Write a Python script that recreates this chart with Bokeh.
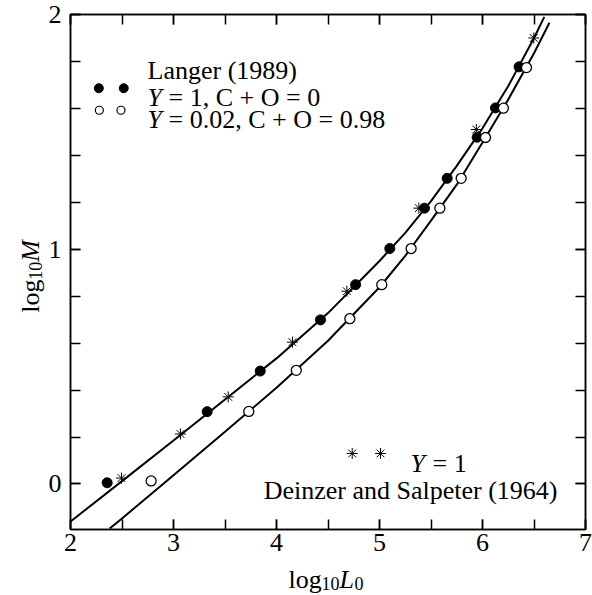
from bokeh.plotting import figure
from bokeh.models import Range1d, SingleIntervalTicker, LinearAxis, Label, CustomJSTickFormatter
from bokeh.embed import file_html
from bokeh.resources import INLINE
import math

# ---- data ----
# Langer (1989), Y = 1, C + O = 0  (filled circles)
filled_logL = [2.356, 3.327, 3.842, 4.427, 4.768, 5.100, 5.437, 5.657, 5.948, 6.126, 6.355]
filled_logM = [0.005, 0.308, 0.481, 0.699, 0.849, 1.003, 1.175, 1.302, 1.477, 1.602, 1.777]
# Langer (1989), Y = 0.02, C + O = 0.98 (open circles)
open_logL = [2.783, 3.731, 4.192, 4.712, 5.022, 5.307, 5.586, 5.793, 6.029, 6.203, 6.427]
open_logM = [0.013, 0.309, 0.484, 0.704, 0.849, 1.003, 1.175, 1.302, 1.476, 1.601, 1.774]
# Deinzer and Salpeter (1964), Y = 1 (asterisks)
ds_logL = [2.495, 3.068, 3.531, 4.155, 4.683, 5.382, 5.940, 6.498]
ds_logM = [0.025, 0.213, 0.371, 0.604, 0.821, 1.175, 1.510, 1.900]
# fitted curves
upper_logL = [2.0, 2.5, 3.0, 3.5, 4.0, 4.5, 5.0, 5.25, 5.5, 5.75, 6.0, 6.25, 6.5, 6.6]
upper_logM = [-0.16, 0.012, 0.185, 0.36, 0.535, 0.728, 0.95, 1.07, 1.205, 1.355, 1.515, 1.695, 1.90, 1.99]
lower_logL = [2.38, 2.5, 3.0, 3.5, 4.0, 4.5, 5.0, 5.25, 5.5, 5.75, 6.0, 6.25, 6.5, 6.65]
lower_logM = [-0.19, -0.147, 0.037, 0.222, 0.41, 0.61, 0.838, 0.972, 1.122, 1.275, 1.455, 1.638, 1.835, 1.965]

x_ticks_major = 1
y_ticks_major = 1

SERIF = "Liberation Serif"
FS = "26px"
FS_SUB = "18px"

p = figure(frame_width=515, frame_height=515,
           x_range=Range1d(2, 7), y_range=Range1d(-0.194, 2.0),
           output_backend="svg", toolbar_location=None,
           min_border_left=70, min_border_right=5, min_border_top=14, min_border_bottom=66,
           background_fill_color="white", border_fill_color="white")
p.xgrid.grid_line_color = None
p.ygrid.grid_line_color = None
p.outline_line_color = "black"
p.outline_line_width = 1.5

p.xaxis.ticker = SingleIntervalTicker(interval=x_ticks_major, num_minor_ticks=2)
p.yaxis.ticker = SingleIntervalTicker(interval=y_ticks_major, num_minor_ticks=5)

def style_axis(ax, show_labels=True, standoff=5):
    ax.axis_line_width = 1.5
    ax.axis_line_color = "black"
    ax.major_tick_in = 10
    ax.major_tick_out = 0
    ax.minor_tick_in = 10
    ax.minor_tick_out = 0
    ax.major_tick_line_width = 1.5
    ax.minor_tick_line_width = 1.5
    ax.major_tick_line_color = "black"
    ax.minor_tick_line_color = "black"
    if show_labels:
        ax.major_label_text_font = SERIF
        ax.major_label_text_font_size = FS
        ax.major_label_text_color = "black"
        ax.major_label_standoff = standoff
    else:
        ax.formatter = CustomJSTickFormatter(code="return ''")
        ax.major_label_text_font_size = "0px"
        ax.major_label_standoff = 0

style_axis(p.xaxis[0], True, 4)
style_axis(p.yaxis[0], True, 9)

top_ax = LinearAxis(ticker=SingleIntervalTicker(interval=x_ticks_major, num_minor_ticks=2))
right_ax = LinearAxis(ticker=SingleIntervalTicker(interval=y_ticks_major, num_minor_ticks=5))
style_axis(top_ax, False)
style_axis(right_ax, False)
p.add_layout(top_ax, "above")
p.add_layout(right_ax, "right")

# curves
p.line(upper_logL, upper_logM, line_color="black", line_width=2)
p.line(lower_logL, lower_logM, line_color="black", line_width=2)

# points
p.scatter(ds_logL, ds_logM, marker="asterisk", size=11, line_color="black", line_width=1)
p.scatter(filled_logL, filled_logM, marker="circle", size=10, fill_color="black", line_color="black")
p.scatter(open_logL, open_logM, marker="circle", size=10, fill_color="white", line_color="black", line_width=1.3)

# legend markers
p.scatter([2.275, 2.517], [1.686, 1.686], marker="circle", size=9, fill_color="black", line_color="black")
p.scatter([2.28, 2.49], [1.592, 1.592], marker="circle", size=8, fill_color="white", line_color="black", line_width=1.2)
p.scatter([4.735, 5.010], [0.130, 0.130], marker="asterisk", size=11, line_color="black", line_width=1)

def lab(x, y, text, size=FS, style="normal", align="left", angle=0.0, place="center"):
    l = Label(x=x, y=y, text=text, text_font=SERIF, text_font_size=size,
              text_font_style=style, text_align=align, text_baseline="alphabetic",
              text_color="black", angle=angle)
    p.add_layout(l, place)

# legend texts
lab(2.748, 1.7596, "Langer (1989)")
lab(2.748, 1.646, "Y", style="italic")
lab(2.952, 1.646, "= 1, C + O = 0")
lab(2.748, 1.551, "Y", style="italic")
lab(2.952, 1.551, "= 0.02, C + O = 0.98")

lab(5.301, 0.0872, "Y", style="italic")
lab(5.515, 0.0872, "= 1")
lab(6.728, -0.0277, "Deinzer and Salpeter (1964)", align="right")

# axis titles: placed in the right-hand side panel (beyond the window) so that
# they are not clipped by the frame; they are positioned by the data scales.
lab(4.1165, -0.4050, "log", place="right")
lab(4.4369, -0.4220, "10", size=FS_SUB, place="right")
lab(4.6117, -0.4050, "L", style="italic", place="right")
lab(4.757, -0.4220, "0", size=FS_SUB, place="right")

a = math.pi / 2
lab(1.6117, 0.7298, "log", angle=a, place="right")
lab(1.6602, 0.870, "10", size=FS_SUB, angle=a, place="right")
lab(1.6117, 0.9468, "M", style="italic", angle=a, place="right")

open("out.html", "w").write(file_html(p, INLINE))
